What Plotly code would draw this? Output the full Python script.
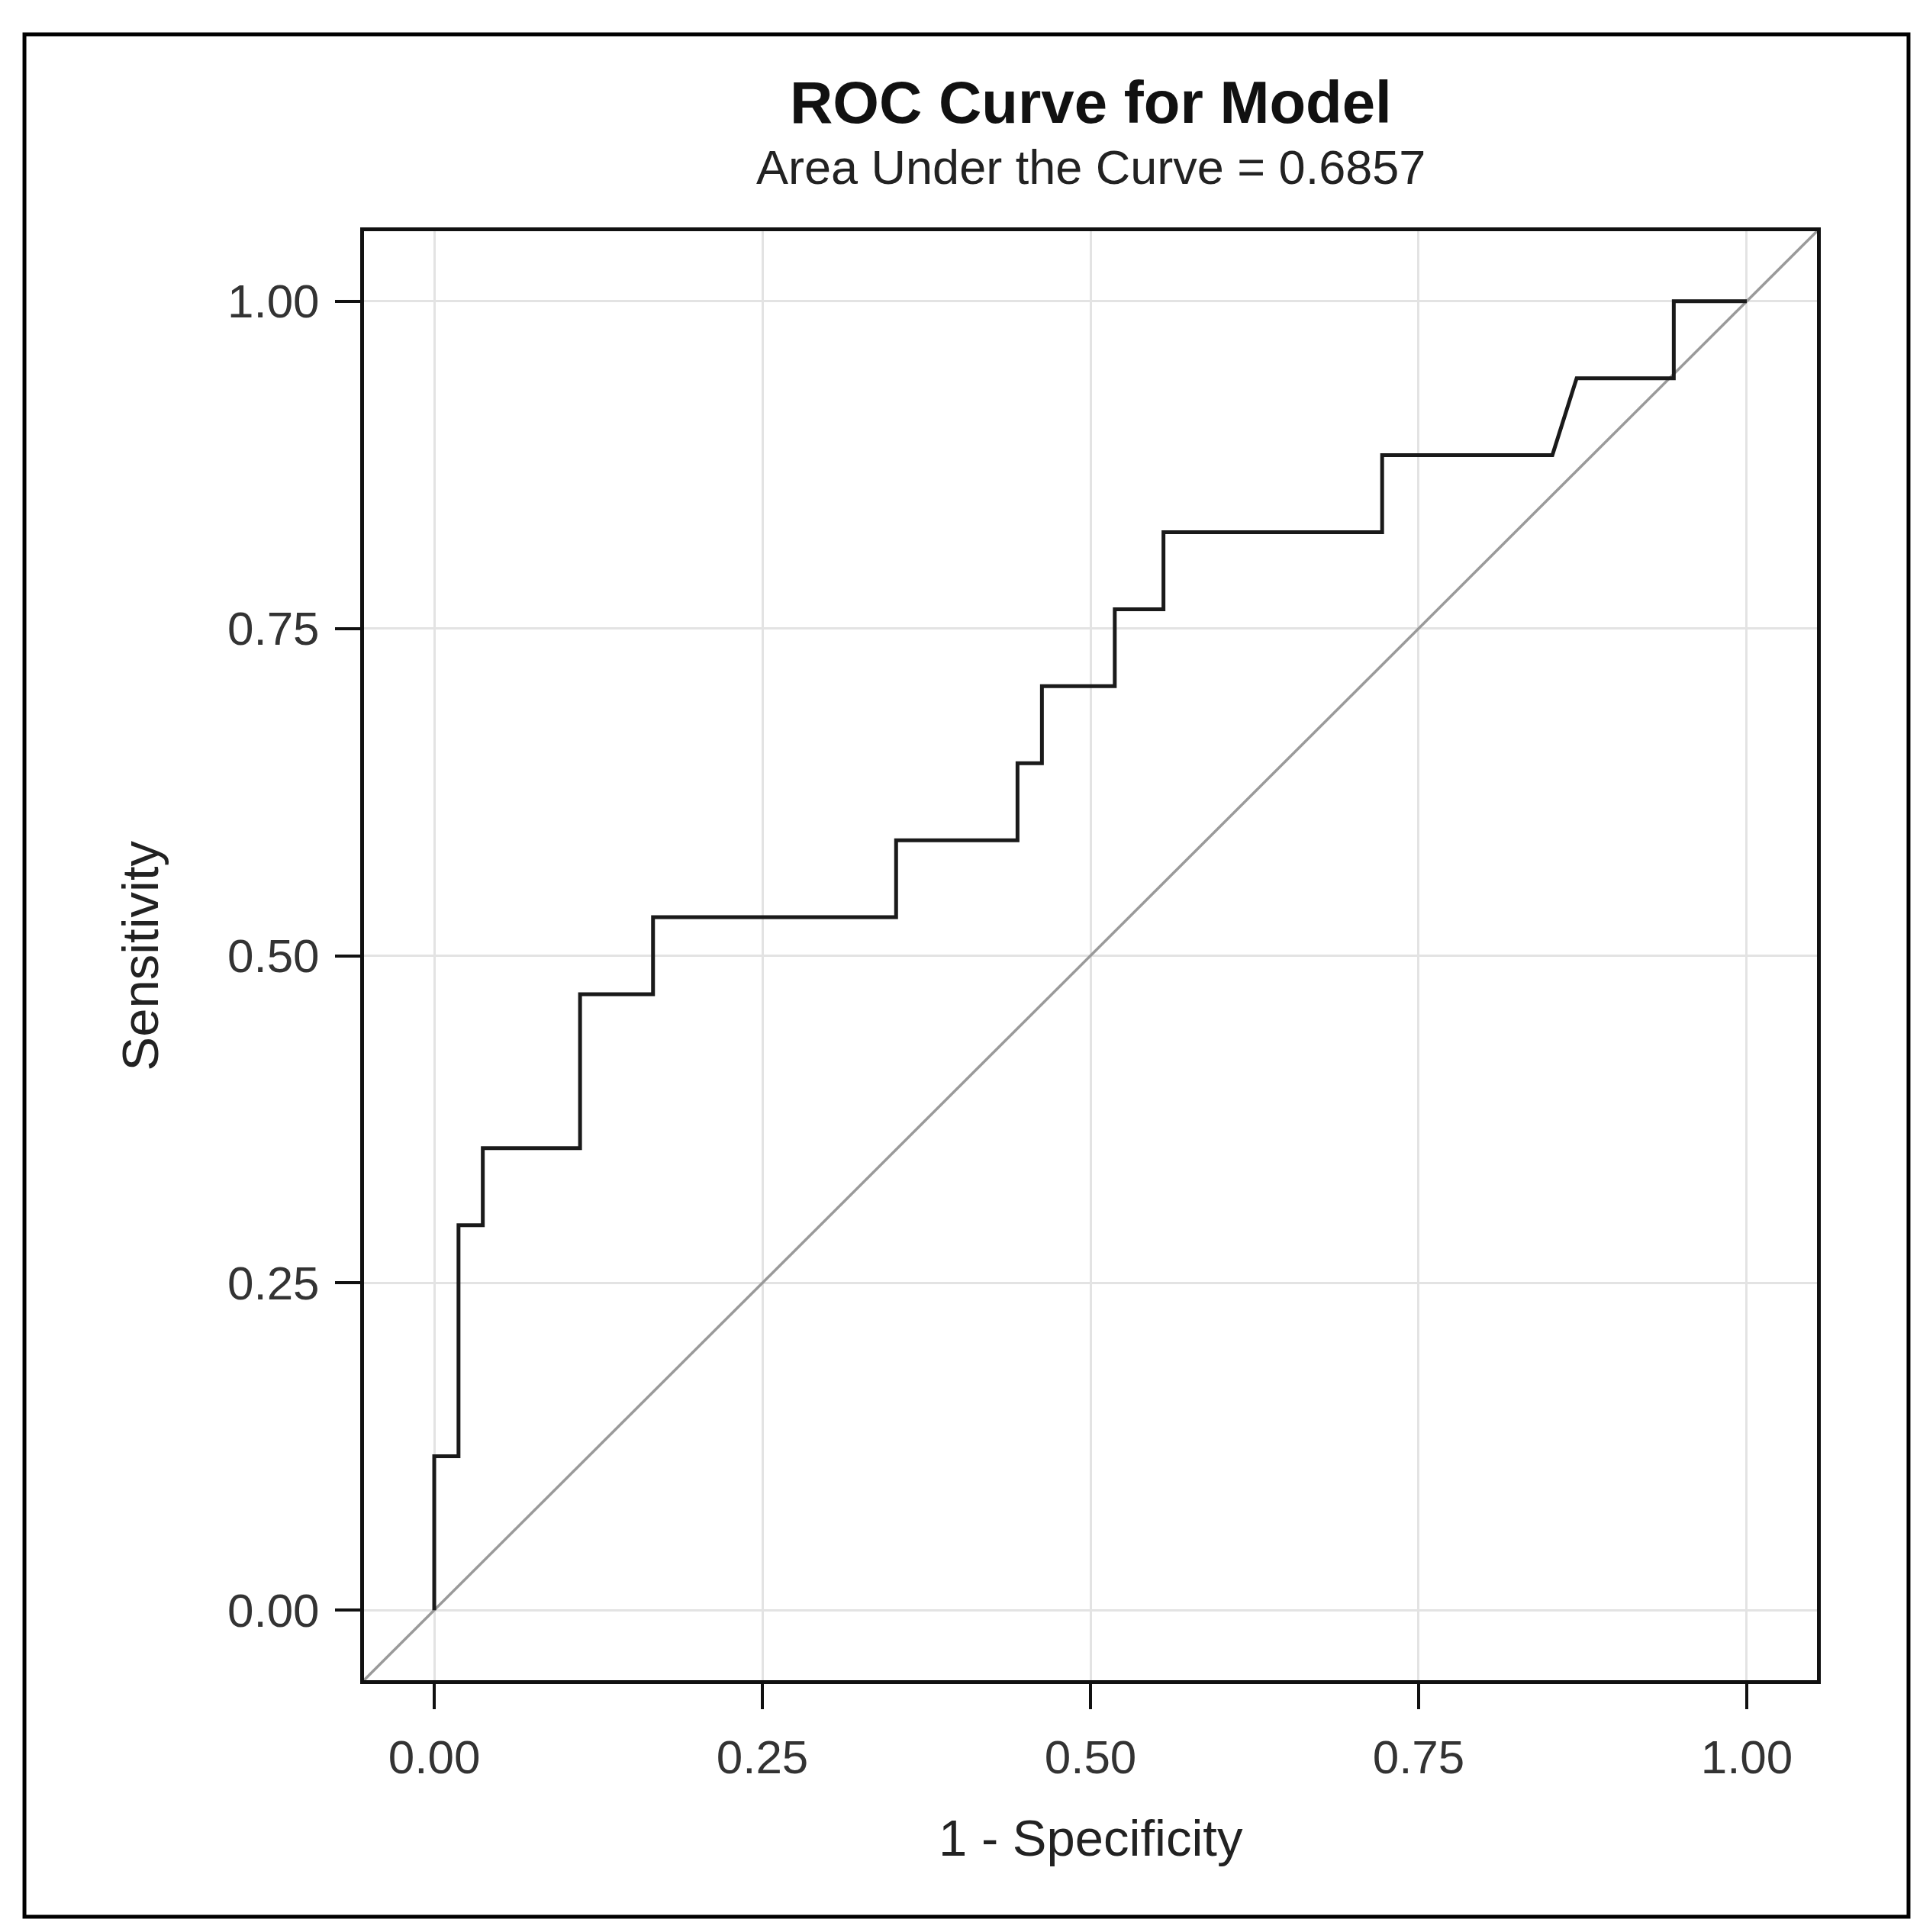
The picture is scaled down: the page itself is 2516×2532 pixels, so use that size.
import plotly.graph_objects as go

# ROC curve vertices (1 - Specificity, Sensitivity)
fpr = [0.0, 0.0, 0.0185, 0.0185, 0.0370, 0.0370, 0.1111, 0.1111, 0.1667, 0.1667,
       0.3519, 0.3519, 0.4444, 0.4444, 0.4630, 0.4630, 0.5185, 0.5185, 0.5556, 0.5556,
       0.7222, 0.7222, 0.8519, 0.8704, 0.9444, 0.9444, 1.0]
tpr = [0.0, 0.1176, 0.1176, 0.2941, 0.2941, 0.3529, 0.3529, 0.4706, 0.4706, 0.5294,
       0.5294, 0.5882, 0.5882, 0.6471, 0.6471, 0.7059, 0.7059, 0.7647, 0.7647, 0.8235,
       0.8235, 0.8824, 0.8824, 0.9412, 0.9412, 1.0, 1.0]

tick_vals = [0.0, 0.25, 0.5, 0.75, 1.0]
tick_text = ["0.00", "0.25", "0.50", "0.75", "1.00"]
axis_range = [-0.0535, 1.0535]

title_text = "ROC Curve for Model"
subtitle_text = "Area Under the Curve = 0.6857"
x_title = "1 - Specificity"
y_title = "Sensitivity"

FONT = "Liberation Sans, Arial, sans-serif"

fig = go.Figure()
fig.add_trace(go.Scatter(x=axis_range, y=axis_range, mode="lines",
                         line=dict(color="#9a9a9a", width=3.5), hoverinfo="skip",
                         showlegend=False))
fig.add_trace(go.Scatter(x=fpr, y=tpr, mode="lines",
                         line=dict(color="#1a1a1a", width=5), showlegend=False))

axis_common = dict(
    range=axis_range, tickvals=tick_vals, ticktext=tick_text,
    showline=True, mirror=True, linecolor="#111", linewidth=5,
    ticks="outside", ticklen=33, tickwidth=4, tickcolor="#111",
    showgrid=True, gridcolor="#e3e3e3", gridwidth=3, zeroline=False,
    tickfont=dict(family=FONT, size=62, color="#333"),
)
fig.update_xaxes(**axis_common, ticklabelstandoff=10)
fig.update_yaxes(**axis_common, ticklabelstandoff=8)

fig.update_layout(
    width=2516, height=2532,
    margin=dict(l=469, r=143, t=295, b=338),
    paper_bgcolor="white", plot_bgcolor="white",
    font=dict(family=FONT, color="#222"),
    annotations=[
        dict(text="<b>" + title_text + "</b>", x=0.5, y=1.089, xref="paper", yref="paper",
             showarrow=False, xanchor="center", yanchor="middle",
             font=dict(size=78, color="#111", family=FONT)),
        dict(text=subtitle_text, x=0.5, y=1.044, xref="paper", yref="paper",
             showarrow=False, xanchor="center", yanchor="middle",
             font=dict(size=63, color="#222", family=FONT)),
        dict(text=x_title, x=0.5, y=-0.1085, xref="paper", yref="paper",
             showarrow=False, xanchor="center", yanchor="middle",
             font=dict(size=67, color="#222", family=FONT)),
        dict(text=y_title, x=-0.1544, y=0.5, xref="paper", yref="paper",
             showarrow=False, xanchor="center", yanchor="middle", textangle=-90,
             font=dict(size=67, color="#222", family=FONT)),
    ],
    shapes=[
        dict(type="rect", xref="paper", yref="paper",
             x0=-0.2337, x1=1.0630, y0=-0.1632, y1=1.1359,
             line=dict(color="#000", width=5), fillcolor="rgba(0,0,0,0)", layer="below"),
    ],
)

fig.write_html("out.html")
